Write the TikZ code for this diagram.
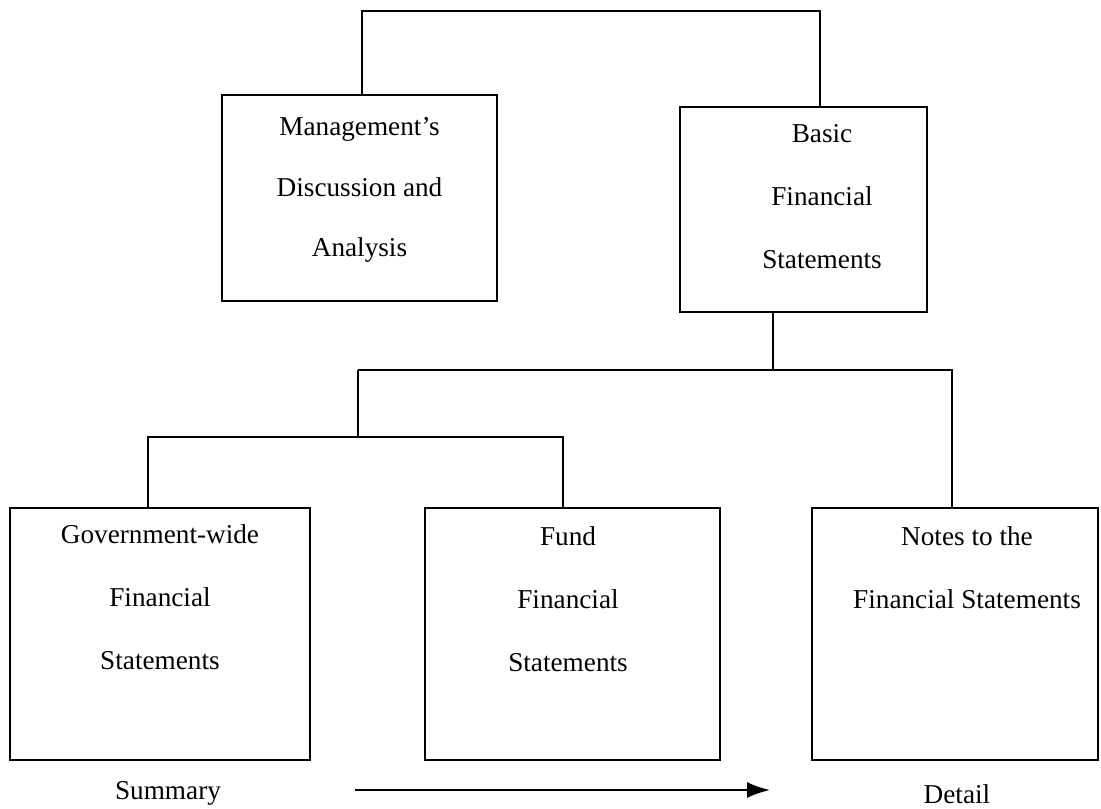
\documentclass[tikz,border=0pt]{standalone}
\usepackage{fontspec}
\setmainfont{Liberation Serif}
\usetikzlibrary{positioning,arrows.meta}

\tikzset{
	box/.style={draw, line width=1.1pt, inner sep=0pt},
	txt/.style={inner sep=0pt, align=center, font=\fontsize{15.5}{36}\selectfont},
	link/.style={line width=1.1pt},
}

\begin{document}
\begin{tikzpicture}[x=0.02cm, y=-0.02cm]
	\useasboundingbox (0,0) rectangle (1101,808);
	% boxes
	\node [box, minimum width=5.5cm, minimum height=4.12cm] (mda) at (359.5,198) {};
	\node [box, minimum width=4.94cm, minimum height=4.1cm] (basic) at (803.5,209.5) {};
	\node [box, minimum width=6cm, minimum height=5.04cm] (gov) at (160,634) {};
	\node [box, minimum width=5.9cm, minimum height=5.04cm] (fund) at (572.5,634) {};
	\node [box, minimum width=5.72cm, minimum height=5.04cm] (notes) at (955,634) {};
	% texts
	\node [txt, font=\fontsize{15.5}{34.5}\selectfont, below=0.46cm of mda.north] (mdatxt) {Management’s\\Discussion and\\Analysis};
	\node [txt, below=0.36cm of basic.north, xshift=0.37cm] (basictxt) {Basic\\Financial\\Statements};
	\node [txt, below=0.34cm of gov.north] (govtxt) {Government-wide\\Financial\\Statements};
	\node [txt, below=0.38cm of fund.north, xshift=-0.09cm] (fundtxt) {Fund\\Financial\\Statements};
	\node [txt, below=0.38cm of notes.north, xshift=0.24cm] (notestxt) {Notes to the\\Financial Statements};
	\node [txt] (summary) at (168,793) {Summary};
	\node [txt] (detail) at (957,794) {Detail};
	% junctions
	\coordinate (top) at (362,11);
	\coordinate (bfs) at (773,370);
	\coordinate (ja) at (358,370);
	\coordinate (jb) at (952,370);
	\coordinate (jc) at (148,437);
	\coordinate (jd) at (563,437);
	\coordinate (arrA) at (355,790);
	\coordinate (arrB) at (770,790);
	% connectors
	\draw [link] (mda.north -| top) -- (top) -| (basic.north -| 820,0);
	\draw [link] (basic.south -| bfs) -- (bfs);
	\draw [link] (ja) -- (jb) -- (jb |- notes.north);
	\draw [link] (ja) -- (ja |- jc);
	\draw [link] (jc |- gov.north) -- (jc) -- (jd) -- (jd |- fund.north);
	\draw [line width=1.1pt, -{Latex[length=13pt, width=9pt]}] (arrA) -- (arrB);
\end{tikzpicture}
\end{document}
